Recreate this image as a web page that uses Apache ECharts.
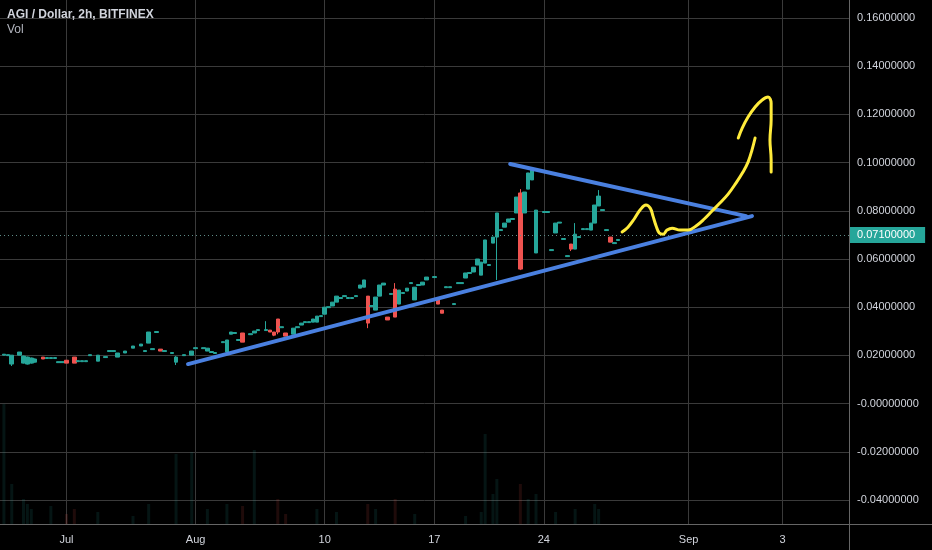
<!DOCTYPE html>
<html><head><meta charset="utf-8">
<script src="https://cdn.jsdelivr.net/npm/echarts@6/dist/echarts.min.js"></script>
<style>html,body{margin:0;padding:0;background:#000}#c{width:932px;height:550px}</style>
</head><body><div id="c"></div>
<script>
// ---- data ----
const barCount = 218;
const tickBars = [17, 50, 83, 111, 139, 176, 200];
const tickLabels = ['Jul', 'Aug', '10', '17', '24', 'Sep', '3'];
const priceMin = -0.04, priceMax = 0.16, priceStep = 0.02;
const lastPrice = 0.071;
// [bar, open, close, low, high]  (low/high omitted = no wick)
const candles = [
 [1,.0201,.0205],[2,.0199,.0203],[3,.0164,.0201,.0156,.0201],[5,.0201,.0214],
 [6,.0168,.0197,.0166,.0199],[7,.0164,.0193,.0162,.0195],[8,.0168,.0189,.0166,.0191],[9,.0172,.0185,.0170,.0187],
 [11,.0193,.0185],[12,.0187,.0191],[13,.0187,.0191],[14,.0187,.0191],[15,.0170,.0174],[16,.0170,.0174],
 [17,.0180,.0168],[19,.0193,.0168],[20,.0174,.0178],[21,.0174,.0178],[22,.0174,.0178],[23,.0199,.0203],
 [25,.0176,.0201],[27,.0191,.0195],[28,.0216,.0220],[29,.0216,.0220],[30,.0193,.0210],[32,.0210,.0218],
 [34,.0230,.0239],[36,.0239,.0247],[37,.0216,.0220],[38,.0251,.0297],[39,.0224,.0228],[40,.0295,.0299],
 [41,.0226,.0218],[42,.0216,.0220],[44,.0208,.0212],[45,.0172,.0193,.0160,.0197],[47,.0199,.0203],
 [49,.0201,.0218],[50,.0228,.0232],[52,.0228,.0232],[53,.0218,.0230],[54,.0212,.0216],[55,.0208,.0212],
 [57,.0253,.0257],[58,.0214,.0264],[59,.0288,.0297],[60,.0291,.0295],[61,.0262,.0266],[62,.0293,.0255],
 [64,.0286,.0290],[65,.0293,.0301],[66,.0303,.0307],[68,.0303,.0307,.0303,.0342],[69,.0305,.0297],
 [70,.0297,.0284,.0280,.0297],[71,.0351,.0297,.0288,.0351],[72,.0315,.0319],[73,.0293,.0280],[74,.0274,.0278],
 [75,.0288,.0313],[76,.0315,.0319],[77,.0326,.0334],[78,.0336,.0340],[79,.0336,.0340],[80,.0338,.0351],
 [81,.0338,.0363],[82,.0361,.0365],[83,.0371,.0400],[84,.0398,.0402],[85,.0405,.0421],[86,.0421,.0446],
 [87,.0436,.0440],[88,.0444,.0448],[89,.0436,.0440],[90,.0436,.0440],[91,.0444,.0448],[92,.0479,.0492],
 [93,.0483,.0513],[94,.0446,.0334,.0313,.0446],[95,.0403,.0407],[96,.0388,.0442],[97,.0446,.0492],
 [98,.0492,.0500],[99,.0359,.0347],[100,.0453,.0457],[101,.0475,.0359,.0359,.0500],[102,.0413,.0471],
 [103,.0457,.0461],[104,.0467,.0479],[105,.0498,.0502],[106,.0430,.0483],[107,.0490,.0494],[108,.0492,.0504],
 [109,.0513,.0525],[111,.0523,.0527],[112,.0430,.0413],[113,.0388,.0375],[114,.0481,.0485],[115,.0481,.0485],
 [116,.0411,.0415],[117,.0498,.0502],[118,.0498,.0502],[119,.0521,.0542],[120,.0540,.0544],[121,.0546,.0566],
 [122,.0575,.0600],[123,.0533,.0587],[124,.0583,.0679],[125,.0573,.0577],[126,.0666,.0691],
 [127,.0691,.0791,.0513,.0791],[128,.0718,.0722],[129,.0732,.0749],[130,.0753,.0766],[131,.0764,.0768],
 [132,.0791,.0857],[133,.0874,.0558,.0554,.0890],[134,.0791,.0878],[135,.0890,.0957],[136,.0928,.0969,.0928,.0981],
 [137,.0625,.0803],[139,.0793,.0797],[140,.0793,.0797],[141,.0635,.0639],[142,.0708,.0749],[143,.0749,.0753],
 [144,.0681,.0685],[145,.0610,.0614],[146,.0662,.0641,.0633,.0662],[147,.0641,.0703,.0641,.0749],[148,.0689,.0693],
 [149,.0722,.0726],[150,.0722,.0726],[151,.0720,.0749],[152,.0749,.0824],[153,.0820,.0861,.0820,.0886],
 [154,.0801,.0805],[155,.0718,.0722],[156,.0691,.0670],[157,.0664,.0668],[158,.0677,.0681]
];
// [bar, volume]
const volumes = [
 [1,120],[3,40],[6,25],[7,20],[8,15],[13,18],[17,10],[19,15],[25,12],[34,8],[38,20],[45,70],[49,72],[53,15],
 [58,20],[62,18],[65,74],[71,25],[73,10],[81,15],[86,12],[94,20],[96,15],[101,25],[106,10],[119,8],[123,12],
 [124,90],[126,30],[127,45],[133,40],[135,25],[137,30],[142,12],[147,15],[152,20],[153,15]
];
// drawings: [bar, price]
const supportLine = [[48.06,0.0164],[192.2,0.0778]];
const resistanceLine = [[130.4,0.0994],[190.7,0.0778]];
const squiggle = [[159.0,.0712],[160.5,.0732],[162.1,.0766],[163.6,.0803],[165.1,.0824],[166.2,.0811],[166.9,.0778],
 [167.7,.0737],[168.5,.0708],[169.5,.0703],[170.5,.0720],[171.8,.0728],[173.8,.0720],[175.9,.0720],[177.9,.0737],
 [180.0,.0766],[182.0,.0799],[184.0,.0832],[186.1,.0869],[188.1,.0915],[189.9,.0961],[191.2,.1002],[192.2,.1052],[193.0,.1102]];
const arrowHead = [[188.7,.1102],[189.7,.1143],[191.2,.1189],[193.0,.1231],[194.8,.1260],[196.3,.1272],[197.1,.1247],
 [197.1,.1177],[196.8,.1094],[197.1,.1011],[197.1,.0961]];

// ---- build ----
const UP = '#26a69a', DOWN = '#ef5350';
const categories = Array.from({length: barCount}, (_, i) => String(i));
const isTick = (i) => tickBars.indexOf(i) >= 0;
const candleData = candles.map(([b,o,c,l,h]) => [b, o, c, l ?? Math.min(o,c), h ?? Math.max(o,c)]);
const candleDir = {};
candles.forEach(([b,o,c]) => { candleDir[b] = c >= o; });
const volData = volumes.map(([b,v]) => ({value:[b,v], itemStyle:{color: candleDir[b] === false ? 'rgba(239,83,80,0.13)' : 'rgba(38,166,154,0.13)'}}));
const GRID = '#3a3a3a', TXT = '#d1d4dc', FONT = "'Liberation Sans', Arial, sans-serif";

const chart = echarts.init(document.getElementById('c'), null, {renderer:'canvas'});
chart.setOption({
  animation: false,
  backgroundColor: '#000',
  textStyle: {fontFamily: FONT},
  title: [
    {text: 'AGI / Dollar, 2h, BITFINEX', left: 7, top: 9, padding: 0, textStyle: {color: TXT, fontSize: 12, fontWeight: 'bold', fontFamily: FONT}},
    {text: 'Vol', left: 7, top: 24, padding: 0, textStyle: {color: '#b2b5be', fontSize: 12, fontWeight: 'normal', fontFamily: FONT}}
  ],
  grid: [
    {left: 0, right: 83, top: 0, bottom: 26},
    {left: 0, right: 83, top: 18, bottom: 50}
  ],
  xAxis: [
    {type: 'category', gridIndex: 0, data: categories, boundaryGap: false,
     axisLine: {show: false}, axisTick: {show: false},
     axisLabel: {interval: (i) => isTick(i), formatter: (v) => tickLabels[tickBars.indexOf(+v)] || '', color: TXT, fontSize: 11, margin: 10, fontFamily: FONT},
     splitLine: {show: true, interval: (i) => isTick(i), lineStyle: {color: GRID, width: 1}}},
    {type: 'category', gridIndex: 1, data: categories, boundaryGap: false, show: false},
    {type: 'value', gridIndex: 1, min: 0, max: barCount - 1, show: false}
  ],
  yAxis: [
    {type: 'value', gridIndex: 0, min: 0, max: 524, show: false},
    {type: 'value', gridIndex: 1, position: 'right', min: priceMin, max: priceMax, interval: priceStep,
     axisLine: {show: false}, axisTick: {show: false},
     axisLabel: {color: TXT, fontSize: 11, margin: 8, fontFamily: FONT,
       formatter: (v) => Math.abs(v) < 1e-9 ? '-0.00000000' : v.toFixed(8)},
     splitLine: {show: true, lineStyle: {color: GRID, width: 1}}}
  ],
  series: [
    {type: 'bar', xAxisIndex: 0, yAxisIndex: 0, data: volData, barWidth: 3, encode: {x: 0, y: 1}, z: 1},
    {type: 'candlestick', xAxisIndex: 1, yAxisIndex: 1, data: candleData, encode: {x: 0, y: [1,2,3,4]},
     barWidth: 4, z: 3,
     itemStyle: {color: UP, color0: DOWN, borderColor: UP, borderColor0: DOWN, borderColorDoji: UP, borderWidth: 1},
     markLine: {silent: true, symbol: ['none','none'], animation: false,
       lineStyle: {color: '#5f8c88', type: [1, 3], width: 1},
       label: {show: true, position: 'end', distance: 0, formatter: () => lastPrice.toFixed(8),
         color: '#fff', backgroundColor: UP, padding: [3, 10, 2, 8], fontSize: 11, fontFamily: FONT},
       data: [{yAxis: lastPrice}]}},
    {type: 'line', xAxisIndex: 2, yAxisIndex: 1, data: supportLine, symbol: 'none', z: 5,
     lineStyle: {color: '#4a80e0', width: 4, cap: 'round'}},
    {type: 'line', xAxisIndex: 2, yAxisIndex: 1, data: resistanceLine, symbol: 'none', z: 5,
     lineStyle: {color: '#4a80e0', width: 4, cap: 'round'}},
    {type: 'line', xAxisIndex: 2, yAxisIndex: 1, data: squiggle, symbol: 'none', smooth: 0.4, z: 6,
     lineStyle: {color: '#ffeb3b', width: 3, cap: 'round', join: 'round'}},
    {type: 'line', xAxisIndex: 2, yAxisIndex: 1, data: arrowHead, symbol: 'none', smooth: 0.4, z: 6,
     lineStyle: {color: '#ffeb3b', width: 3, cap: 'round', join: 'round'}}
  ],
  graphic: [
    {type: 'line', silent: true, z: 10, shape: {x1: 849.5, y1: 0, x2: 849.5, y2: 550}, style: {stroke: '#666', lineWidth: 1}},
    {type: 'line', silent: true, z: 10, shape: {x1: 0, y1: 524.5, x2: 932, y2: 524.5}, style: {stroke: '#666', lineWidth: 1}}
  ]
});
</script></body></html>
